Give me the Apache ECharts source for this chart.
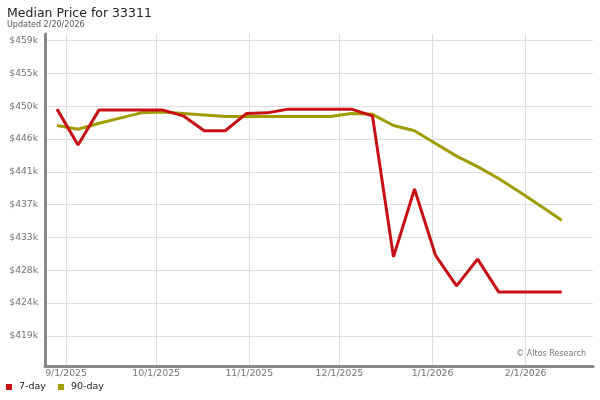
<!DOCTYPE html>
<html>
<head>
<meta charset="utf-8">
<script src="https://cdn.jsdelivr.net/npm/echarts@6/dist/echarts.min.js"></script>
<style>
html,body{margin:0;padding:0;background:#fff;}
#chart{width:600px;height:400px;}
</style>
</head>
<body>
<div id="chart"></div>
<script>
var titleText = 'Median Price for 33311';
var subtitleText = 'Updated 2/20/2026';
var watermarkText = '\u00A9 Altos Research';
var seriesNames = ['7-day', '90-day'];

var dates = ['2025-08-29','2025-09-05','2025-09-12','2025-09-19','2025-09-26',
             '2025-10-03','2025-10-10','2025-10-17','2025-10-24','2025-10-31',
             '2025-11-07','2025-11-14','2025-11-21','2025-11-28','2025-12-05',
             '2025-12-12','2025-12-19','2025-12-26','2026-01-02','2026-01-09',
             '2026-01-16','2026-01-23','2026-01-30','2026-02-06','2026-02-13'];

var sevenDay = [449800, 445000, 449700, 449700, 449700,
                449700, 448900, 446900, 446900, 449200,
                449300, 449800, 449800, 449800, 449800,
                448900, 430000, 439100, 430200, 426100,
                429700, 425300, 425300, 425300, 425300];

var ninetyDay = [447600, 447100, 447900, 448600, 449300,
                 449400, 449200, 449000, 448800, 448800,
                 448800, 448800, 448800, 448800, 449200,
                 449100, 447600, 446900, 445200, 443500,
                 442100, 440500, 438700, 436800, 434900];

var yTicks = [419400, 423800, 428200, 432600, 437000, 441400, 445800, 450200, 454600, 459000];
var xTicks = ['2025-09-01','2025-10-01','2025-11-01','2025-12-01','2026-01-01','2026-02-01'];

var xMin = Date.UTC(2025, 7, 25);
var xMax = Date.UTC(2026, 1, 23, 10);
var yMin = 415370;
var yMax = 459870;

function toPairs(vals) {
  return dates.map(function (d, i) { return [Date.parse(d), vals[i]]; });
}
var xTickVals = xTicks.map(function (d) { return Date.parse(d); });

var chart = echarts.init(document.getElementById('chart'), null, {renderer: 'canvas'});
chart.setOption({
  animation: false,
  backgroundColor: '#ffffff',
  textStyle: {fontFamily: 'DejaVu Sans'},
  grid: {left: 45, right: 7, top: 34, bottom: 34, containLabel: false},
  legend: {
    data: seriesNames,
    left: 6, top: 382,
    icon: 'rect', itemWidth: 6, itemHeight: 6, itemGap: 12,
    padding: 0,
    textStyle: {fontSize: 9.5, color: '#222', fontFamily: 'DejaVu Sans', padding: [0, 0, 0, 2]}
  },
  graphic: [
    {type: 'text', left: 7, top: 7, style: {text: titleText, font: '12.5px "DejaVu Sans"', fill: '#222'}},
    {type: 'text', left: 7, top: 21, style: {text: subtitleText, font: '8px "DejaVu Sans"', fill: '#555'}},
    {type: 'text', right: 14, top: 350, style: {text: watermarkText, font: '8px "DejaVu Sans"', fill: '#777'}}
  ],
  xAxis: {
    type: 'value', min: xMin, max: xMax,
    axisLine: {show: true, lineStyle: {color: '#888', width: 3}},
    axisTick: {show: false, customValues: xTickVals},
    axisLabel: {
      customValues: xTickVals, margin: 3, fontSize: 9.3, color: '#737373',
      formatter: function (v) {
        var d = new Date(v);
        return (d.getUTCMonth() + 1) + '/' + d.getUTCDate() + '/' + d.getUTCFullYear();
      }
    },
    splitLine: {show: true, lineStyle: {color: '#ddd', width: 1}}
  },
  yAxis: {
    type: 'value', min: yMin, max: yMax,
    axisLine: {show: true, lineStyle: {color: '#888', width: 3}},
    axisTick: {show: false, customValues: yTicks},
    axisLabel: {
      customValues: yTicks, margin: 7, fontSize: 9.2, color: '#737373',
      formatter: function (v) { return '$' + Math.round(v / 1000) + 'k'; }
    },
    splitLine: {show: true, lineStyle: {color: '#ddd', width: 1}}
  },
  series: [
    {name: seriesNames[0], type: 'line', data: toPairs(sevenDay), showSymbol: false, symbol: 'none',
     z: 4, color: '#c80f14', lineStyle: {width: 3, color: '#c80f14'}},
    {name: seriesNames[1], type: 'line', data: toPairs(ninetyDay), showSymbol: false, symbol: 'none',
     z: 3, color: '#a09c00', lineStyle: {width: 3, color: '#a09c00'}}
  ]
});
</script>
</body>
</html>
